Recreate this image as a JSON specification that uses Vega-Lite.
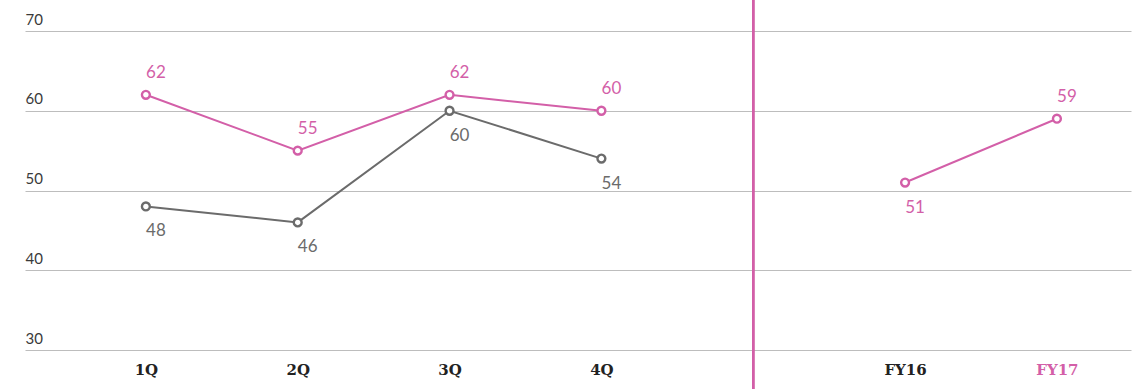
{
  "$schema": "https://vega.github.io/schema/vega-lite/v6.json",
  "width": 1106,
  "height": 319,
  "autosize": "none",
  "padding": {"left": 25, "top": 31, "right": 14, "bottom": 39},
  "background": "white",
  "config": {
    "view": {"stroke": null},
    "font": "Lato"
  },
  "data": {
    "values": [
      {"period": "1Q", "series": "pink", "segment": "pink-q", "value": 62},
      {"period": "2Q", "series": "pink", "segment": "pink-q", "value": 55},
      {"period": "3Q", "series": "pink", "segment": "pink-q", "value": 62},
      {"period": "4Q", "series": "pink", "segment": "pink-q", "value": 60},
      {"period": "FY16", "series": "pink", "segment": "pink-fy", "value": 51},
      {"period": "FY17", "series": "pink", "segment": "pink-fy", "value": 59},
      {"period": "1Q", "series": "gray", "segment": "gray-q", "value": 48},
      {"period": "2Q", "series": "gray", "segment": "gray-q", "value": 46},
      {"period": "3Q", "series": "gray", "segment": "gray-q", "value": 60},
      {"period": "4Q", "series": "gray", "segment": "gray-q", "value": 54}
    ]
  },
  "encoding": {
    "x": {
      "field": "period",
      "type": "ordinal",
      "sort": null,
      "scale": {
        "type": "point",
        "domain": ["1Q", "2Q", "3Q", "4Q", "gap", "FY16", "FY17"],
        "padding": 0.642,
        "align": 0.62
      },
      "axis": {
        "title": null,
        "domain": false,
        "ticks": false,
        "grid": false,
        "labelAngle": 0,
        "labelFont": "DejaVu Serif",
        "labelFontWeight": "bold",
        "labelFontSize": 15,
        "labelPadding": 12,
        "labelBaseline": "top",
        "labelExpr": "datum.value === 'gap' ? '' : datum.value",
        "labelColor": {
          "condition": {"test": "datum.value === 'FY17'", "value": "#d35fa8"},
          "value": "#222222"
        }
      }
    },
    "y": {
      "field": "value",
      "type": "quantitative",
      "scale": {"domain": [30, 70], "nice": false, "zero": false},
      "axis": {
        "title": null,
        "values": [30, 40, 50, 60, 70],
        "domain": false,
        "ticks": false,
        "tickSize": 0,
        "grid": true,
        "gridColor": "#bdbdbd",
        "gridWidth": 1,
        "labelAlign": "left",
        "labelBaseline": "alphabetic",
        "labelPadding": 0,
        "labelOffset": -7,
        "labelFont": "Lato",
        "labelFontWeight": "normal",
        "labelFontSize": 15,
        "labelColor": "#3a3a3a"
      }
    },
    "color": {
      "field": "series",
      "type": "nominal",
      "scale": {"domain": ["pink", "gray"], "range": ["#d35fa8", "#6b6b6b"]},
      "legend": null
    }
  },
  "layer": [
    {
      "mark": {"type": "rule", "color": "#d35fa8", "strokeWidth": 1.8, "clip": false},
      "encoding": {
        "x": {"datum": "gap", "type": "ordinal"},
        "y": {"datum": 74},
        "y2": {"datum": 25},
        "color": {"value": "#d35fa8"}
      }
    },
    {
      "mark": {"type": "line", "strokeWidth": 2},
      "encoding": {"detail": {"field": "segment"}}
    },
    {
      "mark": {"type": "point", "filled": true, "fill": "white", "strokeWidth": 2.4, "size": 62, "opacity": 1},
      "encoding": {"stroke": {"field": "series", "type": "nominal", "scale": {"domain": ["pink", "gray"], "range": ["#d35fa8", "#6b6b6b"]}, "legend": null}, "fill": {"value": "white"}}
    },
    {
      "transform": [{"filter": "datum.series === 'pink' && datum.period !== 'FY16'"}],
      "mark": {"type": "text", "dx": 10, "dy": -22, "fontSize": 17, "font": "Lato"},
      "encoding": {"text": {"field": "value", "type": "quantitative"}}
    },
    {
      "transform": [{"filter": "datum.series === 'gray' || datum.period === 'FY16'"}],
      "mark": {"type": "text", "dx": 10, "dy": 25, "fontSize": 17, "font": "Lato"},
      "encoding": {"text": {"field": "value", "type": "quantitative"}}
    }
  ]
}
